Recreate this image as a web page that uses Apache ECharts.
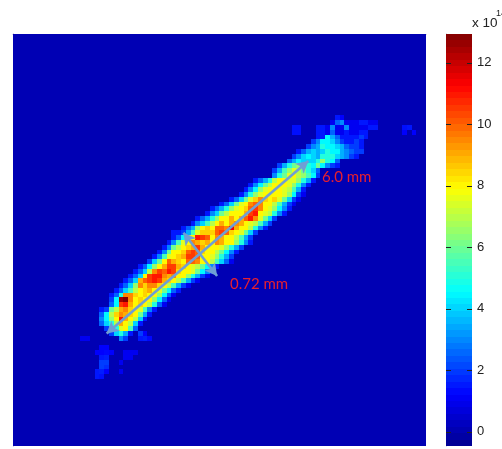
<!DOCTYPE html>
<html><head><meta charset="utf-8">
<style>html,body{margin:0;padding:0;background:#fff}#c{width:502px;height:449px}</style>
<script src="https://cdn.jsdelivr.net/npm/echarts@6/dist/echarts.min.js"></script>
</head><body><div id="c"></div>
<script>
const gridSize = 86;
const backgroundValue = 0.1;
const valueMin = -0.46, valueMax = 12.94;
const colorbarTicks = [0,2,4,6,8,10,12];
const jetStops = ['#00008f','#0000ff','#0080ff','#00ffff','#80ff80','#ffff00','#ff8000','#ff0000','#800000'];
// Band of the beam image: first row index, then per row first column and cell values
const bandFirstRow = 18;
const bandStart = [66,63,63,63,62,61,59,58,57,55,54,54,50,49,48,47,45,43,41,40,38,37,35,33,33,32,31,30,29,28,26,25,24,23,22,21,20,20,20,18,18,18,18,19,20,22];
const bandValues = [
 [1,2.5,3,1,1,1,1.5,1.5,1],
 [1.5,1.5,1,3,1,1,3,1,1,1,1,1.5,1.5],
 [1.5,1.5,1,2.5,1,1,1.5,1,1,1.5,1.5],
 [1.5,1.5,4.5,3.5,2.5,1.5,1.5,1.5,1.5,2,1.5],
 [2,3,4.5,4.5,4,3,2,1.5,1.5,2,1.5],
 [2,3,3.5,5,4.5,4.5,4,3.5,2.5,2,2,1.5],
 [1.5,2.5,3.5,4,3.5,4,5,4.5,4.5,3.5,3,2.5,2,2],
 [2,3,4,4.5,4,3.5,5,5,5,4,3.5,3,2,1.5],
 [2.5,3.5,4.5,4,4,4,5,6.5,5,4.5,2.5],
 [2,3.5,5,6,6.5,6,5,4.5,6,4.5,3,2,1.5],
 [2,3.5,5.5,6.5,7.5,7,6,5,4,2.5],
 [3,5,6,7.5,8,7,6.5,5.5,4.5,2],
 [1.5,2.5,3.5,5,7,8,8,7.5,7.5,6.5,5,3.5,1.5],
 [1.5,3,4.5,6,7,8,8,8,7.5,6.5,5,3,1.5],
 [1.5,3,4.5,6.5,7.5,8,8,8,7.5,7,5.5,3.5,1.5],
 [1.5,3,5,6.5,7.5,8,8,8,8,7.5,6.5,4.5,2,1],
 [1.5,2.5,4,6,7.5,8.5,9.5,8.5,8,8.5,7.5,6,4,2,1],
 [1.5,2.5,4,6,7.5,8,9.5,10,9.5,8,8,7,5.5,3.5,2,1],
 [1.5,2.5,3.5,5,6.5,7.5,8,8.5,10,10.5,9.5,8,7.5,6.5,4.5,3,1.5],
 [1.5,3,4,6,7,8,8,8,9,10.5,11,8,7.5,7,5,3,1.5],
 [1.5,2.5,3.5,5,6.5,8,8,9,8,9,10,11,9.5,7.5,6,4,2],
 [1.5,3,4,5.5,7,8,9,8,9,9.5,9,8,7.5,7,5.5,3.5,2],
 [1.5,2.5,3.5,6.5,8,8.5,8,10,10,9.5,11.5,9,8,8,7,5,3,1.5],
 [1.5,1.5,2,3.5,5.5,7.5,8.5,8.5,8.5,10,10.5,10,8.5,8,7.5,6,4,2],
 [1.5,2.5,4.5,7.5,8,11,10.5,10,8,9.5,9,8,8,7,5.5,3.5,2],
 [1.5,3,5.5,7.5,8,9.5,9,8.5,9,8,9.5,9,8,8,6.5,5,3,1.5],
 [1.5,3,6,7,8,8.5,9,10.5,9,8,8,8,7.5,6.5,5,3.5,2],
 [1.5,3,6,8,8,8.5,10,10.5,10,8.5,8,8,7,6,4.5,3,1.5],
 [1.5,3,5.5,7.5,8,8.5,9,10.5,10.5,10,8,8,7.5,6.5,5,3.5,2],
 [2,4,6,8,10,9,8.5,8,10,10,9.5,8,8,7,5.5,4,2.5,1],
 [1.5,2.5,4.5,6.5,8,9,10.5,10.5,9,8.5,8,7.5,7,6,4.5,3,1.5],
 [1.5,2.5,4,7,9.5,10.5,10,11,10.5,8.5,8,8,7.5,6,4.5,3,1.5],
 [1.5,2.5,4,8,10.5,11,11,9.5,9,9.5,8,8,6.5,5,3.5,2,1],
 [1.5,2.5,4,9,10,10.5,11,10.5,9,8.5,8,7,5.5,3.5,2,1],
 [1.5,2.5,4,6.5,9.5,8.5,9.5,9.5,8.5,8,7,5.5,3.5,2,1],
 [1.5,2.5,4,5.5,7,8,8.5,9,8,7.5,6,4.5,2.5,1.5],
 [1.5,2.5,5,9.5,9.5,8.5,8,8.5,8,8,6.5,4.5,2.5,1],
 [2,4.5,12.5,13,9.5,8,8.5,8,8,6.5,4.5,2.5,1],
 [2.5,4.5,10.5,11,9,8,8.5,8,7,5,2.5,1],
 [1.5,2,6,7,9,9.5,8.5,8,7.5,5.5,3,1.5],
 [2.5,4.5,7,8.5,9.5,9,8.5,8,6,3.5,1.5],
 [3,4.5,6.5,8,11,9,8,7,4,1.5],
 [2.5,4,5,7,9,8,7,4,1.5],
 [2,4,5,7.5,8,5.5,2.5],
 [2,4,5,3.5,1.5],
 [3,2]
];
// Isolated faint cells around the band: column, row, value
const scatterCells = [
 [58,19,1.4],[59,19,1.4],[58,20,1.4],[59,20,1.4],[67,17,1.5],[68,17,1.2],[74,18,1],[75,18,1],
 [81,19,1.4],[82,19,1.5],[83,20,1.2],[81,20,1.2],
 [26,62,2],[27,62,1.2],[26,63,1.5],[27,63,1.6],[28,63,1.3],[14,63,1],[15,63,1],
 [18,65,1.2],[19,65,1.2],[17,66,1.2],[18,66,1.2],[19,66,1.3],[20,66,1.2],[23,66,1],[24,66,1],[25,66,1],
 [18,67,1.5],[19,67,1.6],[23,67,1],[24,67,1],[18,68,2],[19,68,2],[22,68,1],[18,69,2],[19,69,1.8],
 [17,70,1.5],[18,70,1.6],[19,70,1.2],[22,70,1],[17,71,1.5],[18,71,1.4]
];
// Annotation arrows in cell units: from, to
const lengthArrow = [[19.1,61.6],[61.4,26.2]];
const widthArrow = [[34.7,41],[42,49.7]];
const lengthLabel = '6.0 mm';
const widthLabel = '0.72 mm';
const exponent = 'x 10';
const exponentPower = '14';

const cols = Array.from({length:gridSize},(_,i)=>i);
const rows = cols.slice();
const grid = rows.map(()=>cols.map(()=>backgroundValue));
bandValues.forEach((vals,i)=>vals.forEach((v,k)=>{grid[bandFirstRow+i][bandStart[i]+k]=v;}));
scatterCells.forEach(([c,r,v])=>{grid[r][c]=v;});
const cells=[];
rows.forEach(r=>cols.forEach(c=>cells.push([c,r,grid[r][c]])));

// colour scale (MATLAB jet)
function hex(c){return [1,3,5].map(i=>parseInt(c.substr(i,2),16));}
function jet(f){const p=Math.min(0.99999,Math.max(0,f))*(jetStops.length-1);const i=Math.floor(p),t=p-i;
 const a=hex(jetStops[i]),b=hex(jetStops[i+1]);return 'rgb('+a.map((x,k)=>Math.round(x+(b[k]-x)*t)).join(',')+')';}
const levelCount=64;
const levels=Array.from({length:levelCount},(_,i)=>[valueMin+(valueMax-valueMin)*i/levelCount,valueMin+(valueMax-valueMin)*(i+1)/levelCount,(i+.5)/levelCount]);

const arrowLine=(a)=>[{coord:a[0]},{coord:a[1]}];
const chart=echarts.init(document.getElementById('c'),null,{renderer:'canvas'});
chart.setOption({
 animation:false,backgroundColor:'#fff',
 textStyle:{fontFamily:'Liberation Sans'},
 grid:[{left:13,top:34,width:413,height:412},{left:446,top:34,width:26,height:412}],
 xAxis:[
  {type:'category',data:cols,gridIndex:0,position:'top',axisLine:{show:true,lineStyle:{color:'#a0a0cc'}},axisTick:{show:false},axisLabel:{show:false},splitLine:{show:false}},
  {type:'value',gridIndex:1,min:0,max:1,show:false}
 ],
 yAxis:[
  {type:'category',data:rows,inverse:true,gridIndex:0,axisLine:{show:true,lineStyle:{color:'#a0a0cc'}},axisTick:{show:false},axisLabel:{show:false},splitLine:{show:false}},
  {type:'value',gridIndex:1,min:valueMin,max:valueMax,position:'right',splitLine:{show:false},
   axisLine:{show:true,lineStyle:{color:'#b8b8d0'}},
   axisTick:{show:false},
   axisLabel:{color:'#222',fontSize:13,margin:5,customValues:colorbarTicks,fontFamily:'Liberation Sans'}}
 ],
 series:[
  {type:'custom',xAxisIndex:0,yAxisIndex:0,data:cells,silent:true,z:1,progressive:0,clip:false,
   renderItem:(p,api)=>{
    const c=api.coord([api.value(0),api.value(1)]),s=api.size([1,1]);
    const x0=Math.round(c[0]-s[0]/2),x1=Math.round(c[0]+s[0]/2),y0=Math.round(c[1]-s[1]/2),y1=Math.round(c[1]+s[1]/2);
    return {type:'rect',shape:{x:x0,y:y0,width:x1-x0,height:y1-y0},style:{fill:jet((api.value(2)-valueMin)/(valueMax-valueMin))}};
   },
   markLine:{silent:true,z:6,symbol:['arrow','arrow'],symbolSize:[10,12],label:{show:false},animation:false,
    lineStyle:{color:'#6f9fd4',width:2.6,type:'solid',opacity:1},
    data:[arrowLine(lengthArrow),arrowLine(widthArrow)]}},
  {type:'custom',xAxisIndex:1,yAxisIndex:1,data:levels,silent:true,z:1,
   renderItem:(p,api)=>{
    const a=api.coord([0,api.value(0)]),b=api.coord([1,api.value(1)]);
    const y0=Math.round(b[1]),y1=Math.round(a[1]);
    return {type:'rect',shape:{x:a[0],y:y0,width:b[0]-a[0],height:y1-y0},style:{fill:jet(api.value(2))}};
   }},
  {type:'custom',xAxisIndex:1,yAxisIndex:1,data:colorbarTicks.map(v=>[v]),silent:true,z:3,
   renderItem:(p,api)=>{
    const a=api.coord([0,api.value(0)]),b=api.coord([1,api.value(0)]);
    const y=Math.round(a[1])+.5,st={stroke:'#222',lineWidth:1};
    return {type:'group',children:[
     {type:'line',shape:{x1:a[0],y1:y,x2:a[0]+5,y2:y},style:st},
     {type:'line',shape:{x1:b[0]-5,y1:y,x2:b[0],y2:y},style:st}]};
   }}
 ],
 graphic:[
  {type:'text',left:322,top:170,z:20,style:{text:lengthLabel,fill:'#e8202e',font:'15px Lato'}},
  {type:'text',left:230,top:277,z:20,style:{text:widthLabel,fill:'#e8202e',font:'15px Lato'}},
  {type:'text',left:472,top:16,z:20,style:{text:exponent,fill:'#222',font:'13.5px "Liberation Sans"'}},
  {type:'text',left:496,top:9,z:20,style:{text:exponentPower,fill:'#222',font:'9px "Liberation Sans"'}}
 ]
});
</script></body></html>
